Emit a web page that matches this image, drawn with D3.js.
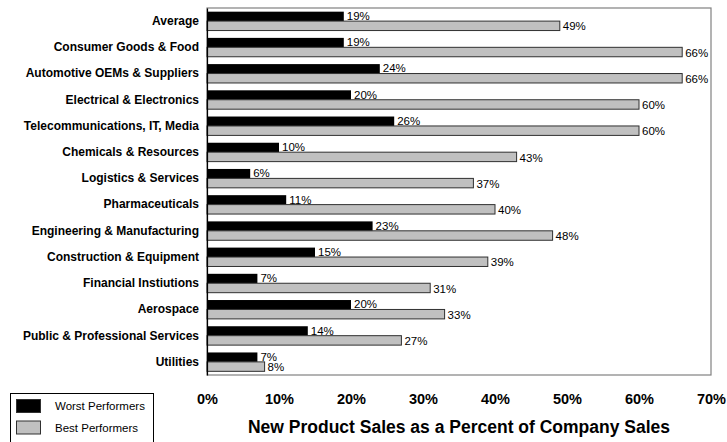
<!DOCTYPE html>
<html>
<head>
<meta charset="utf-8">
<script src="https://cdn.jsdelivr.net/npm/d3@7"></script>
<style>
  html, body { margin: 0; padding: 0; background: #fff; }
  svg { display: block; font-family: Arial, "Liberation Sans", sans-serif; }
</style>
</head>
<body>
<svg id="chart" width="727" height="442"></svg>
<script>
// Industry groups, top to bottom
const categories = [
  "Average",
  "Consumer Goods & Food",
  "Automotive OEMs & Suppliers",
  "Electrical & Electronics",
  "Telecommunications, IT, Media",
  "Chemicals & Resources",
  "Logistics & Services",
  "Pharmaceuticals",
  "Engineering & Manufacturing",
  "Construction & Equipment",
  "Financial Instiutions",
  "Aerospace",
  "Public & Professional Services",
  "Utilities"
];
// New product sales share (% of company sales)
const worstPerformers = [19, 19, 24, 20, 26, 10, 6, 11, 23, 15, 7, 20, 14, 7];
const bestPerformers  = [49, 66, 66, 60, 60, 43, 37, 40, 48, 39, 31, 33, 27, 8];
const xTicks = [0, 10, 20, 30, 40, 50, 60, 70];
const seriesNames = ["Worst Performers", "Best Performers"];

const svg = d3.select("#chart");
const plot = { left: 207, right: 711, top: 8, bottom: 375 };

const x = d3.scaleLinear().domain([0, 70]).range([plot.left, plot.right]);
const y = d3.scaleBand().domain(categories).range([plot.top, plot.bottom])
  .paddingInner(0.28).paddingOuter(0.14);
const sub = d3.scaleBand().domain(seriesNames).range([0, y.bandwidth()]);

const fills = { "Worst Performers": "#000000", "Best Performers": "#c0c0c0" };

const rows = categories.map((c, i) => ({
  cat: c,
  vals: [
    { s: seriesNames[0], v: worstPerformers[i] },
    { s: seriesNames[1], v: bestPerformers[i] }
  ]
}));

// plot frame
svg.append("rect")
  .attr("x", plot.left).attr("y", plot.top)
  .attr("width", plot.right - plot.left).attr("height", plot.bottom - plot.top)
  .attr("fill", "none").attr("stroke", "#808080").attr("stroke-width", 1.2);

const groups = svg.append("g").selectAll("g").data(rows).join("g")
  .attr("transform", d => `translate(0,${y(d.cat)})`);

groups.selectAll("rect").data(d => d.vals).join("rect")
  .attr("x", x(0))
  .attr("y", d => sub(d.s))
  .attr("width", d => x(d.v) - x(0))
  .attr("height", sub.bandwidth())
  .attr("fill", d => fills[d.s])
  .attr("stroke", d => d.s === seriesNames[1] ? "#303030" : "none")
  .attr("stroke-width", 1);

// value labels; the two labels of a row are nudged apart slightly
groups.selectAll("text").data(d => d.vals).join("text")
  .attr("x", d => x(d.v) + 3)
  .attr("y", (d, i) => sub(d.s) + sub.bandwidth() / 2 + (i === 0 ? -0.5 : 0.5))
  .attr("dy", "0.36em")
  .attr("font-size", 11.5)
  .attr("fill", "#000")
  .text(d => d.v + "%");

// category axis
const yAxis = svg.append("g")
  .attr("transform", `translate(${plot.left},0)`)
  .call(d3.axisLeft(y).tickSize(0).tickPadding(8));
yAxis.select(".domain").attr("stroke", "#000").attr("stroke-width", 1.2);
yAxis.selectAll("text")
  .attr("font-size", 12).attr("font-weight", "bold")
  .attr("font-family", "Arial, 'Liberation Sans', sans-serif").attr("fill", "#000");

// value axis labels, placed below the frame
const xAxis = svg.append("g")
  .attr("transform", `translate(0,${plot.bottom})`)
  .call(d3.axisBottom(x).tickValues(xTicks).tickSize(0).tickPadding(19)
    .tickFormat(d => d + "%"));
xAxis.select(".domain").remove();
xAxis.selectAll("text")
  .attr("font-size", 14.5).attr("font-weight", "bold")
  .attr("font-family", "Arial, 'Liberation Sans', sans-serif").attr("fill", "#000");

svg.append("text")
  .attr("x", 459).attr("y", 433)
  .attr("text-anchor", "middle")
  .attr("font-size", 17.5).attr("font-weight", "bold")
  .text("New Product Sales as a Percent of Company Sales");

// legend
const legend = svg.append("g");
legend.append("rect")
  .attr("x", 10.5).attr("y", 393.5).attr("width", 143).attr("height", 52)
  .attr("fill", "#fff").attr("stroke", "#000").attr("stroke-width", 1);
seriesNames.forEach((s, i) => {
  legend.append("rect")
    .attr("x", 16.5).attr("y", 399.5 + i * 21.5).attr("width", 24).attr("height", 13)
    .attr("fill", fills[s]).attr("stroke", "#303030").attr("stroke-width", 1);
  legend.append("text")
    .attr("x", 55).attr("y", 406 + i * 21.5).attr("dy", "0.36em")
    .attr("font-size", 11.5).text(s);
});
</script>
</body>
</html>
